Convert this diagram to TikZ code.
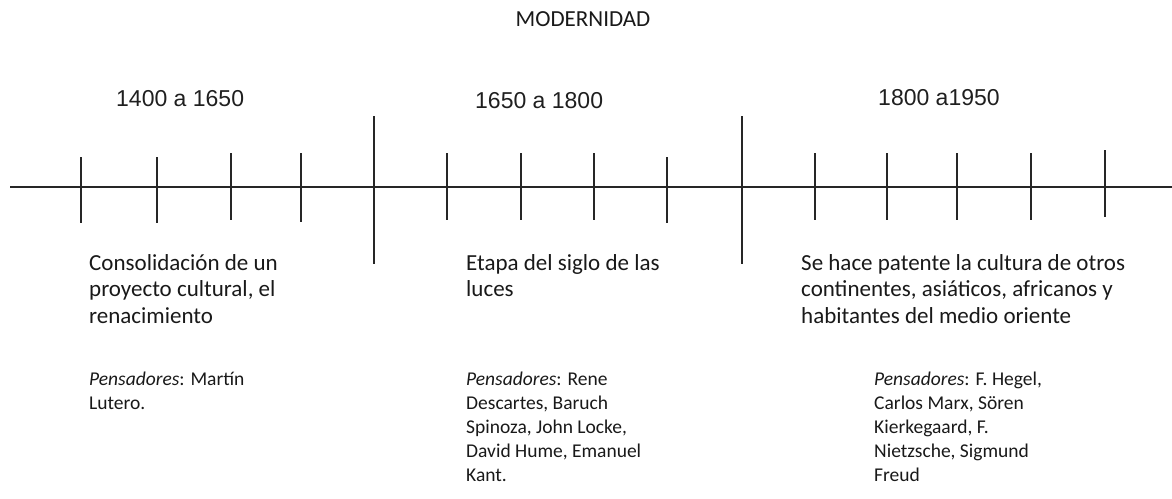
\documentclass[tikz,border=0pt]{standalone}
\usepackage{fontspec}
\setmainfont{Carlito}
\newfontfamily\arialf{Liberation Sans}
\begin{document}
\begin{tikzpicture}[x=1pt,y=-1pt,
  axisline/.style={line width=1.7pt, draw=black!85},
  tickline/.style={line width=1.7pt, draw=black!85},
  yearlbl/.style={font=\arialf\fontsize{23}{27}\selectfont, anchor=base west, inner sep=0pt, text=black!88},
  desclbl/.style={font=\fontsize{23}{26.7}\selectfont, anchor=base west, align=left, inner sep=0pt, text=black!90},
  penslbl/.style={font=\fontsize{19.5}{24}\selectfont, anchor=base west, align=left, inner sep=0pt, text=black!90},
  titlelbl/.style={font=\fontsize{23}{27}\selectfont, anchor=base, inner sep=0pt, text=black!90}]
\useasboundingbox (0,0) rectangle (1172,498);
% title
\node[titlelbl] (title) at (583,26.5) {MODERNIDAD};
% years
\node[yearlbl] (y1) at (116,106) {1400 a 1650};
\node[yearlbl] (y2) at (475,108.3) {1650 a 1800};
\node[yearlbl] (y3) at (878,105) {1800 a1950};
% axis
\coordinate (L) at (10,187);
\coordinate (R) at (1172,187);
\draw[axisline] (L) -- (R);
% ticks
\foreach \x/\a/\b [count=\i] in {81/157/223, 157/157/223, 231/153/220, 301/153/222,
  374/116/264, 447/153/220, 521/153/220, 594/153/220, 667/157/223, 742/116/264,
  815/153/220, 887/153/220, 957/153/220, 1031/153/220, 1105/150/217}{
  \coordinate (t\i a) at (\x,\a);
  \coordinate (t\i b) at (\x,\b);
  \draw[tickline] (t\i a) -- (t\i b);
}
% descriptions (anchor = baseline of the last line)
\node[desclbl] (d1) at (89,323.4) {Consolidación de un\\proyecto cultural, el\\renacimiento};
\node[desclbl] (d2) at (466,296.7) {Etapa del siglo de las\\luces};
\node[desclbl] (d3) at (801,323.4) {Se hace patente la cultura de otros\\continentes, asiáticos, africanos y\\habitantes del medio oriente};
% thinkers
\node[penslbl] (p1) at (89,409) {\textit{Pensadores}: Martín\\Lutero.};
\node[penslbl] (p2) at (466,481) {\textit{Pensadores}: Rene\\Descartes, Baruch\\Spinoza, John Locke,\\David Hume, Emanuel\\Kant.};
\node[penslbl] (p3) at (874,481) {\textit{Pensadores}: F. Hegel,\\Carlos Marx, Sören\\Kierkegaard, F.\\Nietzsche, Sigmund\\Freud};
\end{tikzpicture}
\end{document}
